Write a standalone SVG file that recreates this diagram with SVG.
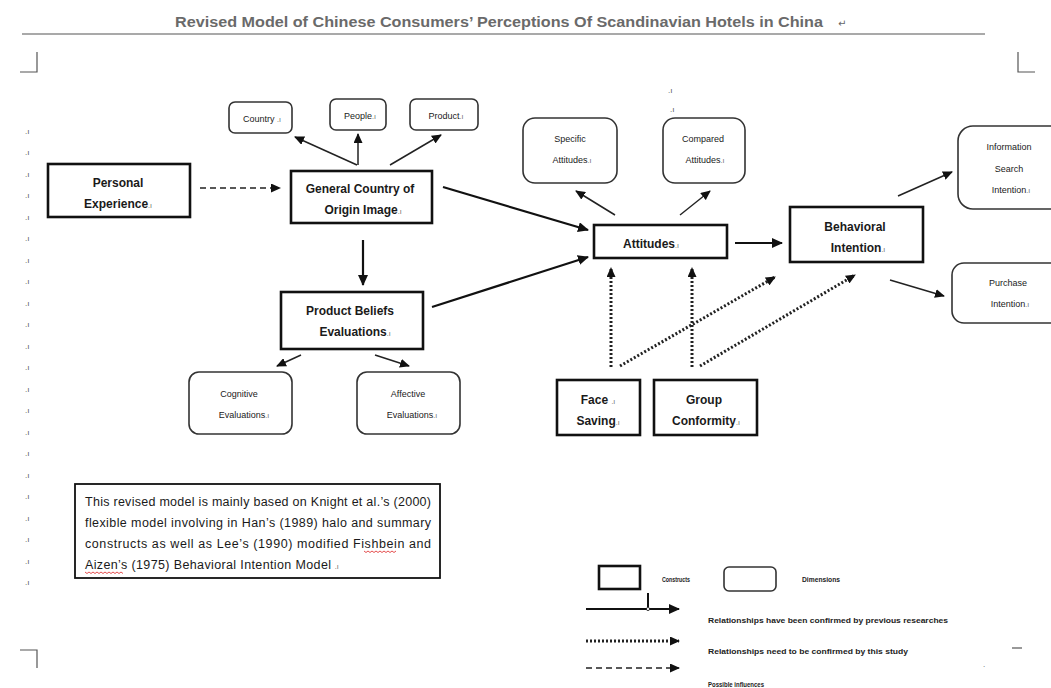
<svg xmlns="http://www.w3.org/2000/svg" width="1051" height="688" viewBox="0 0 1051 688">
<style>
  .bg{fill:#ffffff}
  .con{fill:#ffffff;stroke:#111;stroke-width:2.6}
  .dim{fill:#ffffff;stroke:#333;stroke-width:1.6}
  .lb{font-family:"Liberation Sans",Arial,sans-serif;font-weight:bold;font-size:12px;fill:#1a1a1a;text-anchor:middle}
  .ls{font-family:"Liberation Sans",Arial,sans-serif;font-size:9px;fill:#1a1a1a;text-anchor:middle}
  .pm{font-family:"Liberation Sans",Arial,sans-serif;font-size:7px;fill:#666;font-weight:normal}
  .mg{font-family:"Liberation Sans",Arial,sans-serif;font-size:8px;fill:#555}
  .tx{font-family:"Liberation Sans",Arial,sans-serif;font-size:12.5px;fill:#1a1a1a}
  .lg{font-family:"Liberation Sans",Arial,sans-serif;font-size:6.5px;font-weight:bold;fill:#222}
  .solid{stroke:#111;stroke-width:2.2;fill:none}
  .thin{stroke:#222;stroke-width:1.5;fill:none}
  .dot{stroke:#222;stroke-width:3;stroke-dasharray:2 2;fill:none}
  .dash{stroke:#222;stroke-width:1.5;stroke-dasharray:6 4;fill:none}
  .rule{stroke:#555;stroke-width:1.2;fill:none}
</style>
<defs>
  <marker id="ah" markerUnits="userSpaceOnUse" markerWidth="12" markerHeight="10" refX="10" refY="5" orient="auto">
    <path d="M0,0 L11,5 L0,10 z" fill="#111"/>
  </marker>
  <marker id="ahs" markerUnits="userSpaceOnUse" markerWidth="11" markerHeight="9" refX="9" refY="4.5" orient="auto">
    <path d="M0,0 L10,4.5 L0,9 z" fill="#111"/>
  </marker>
</defs>
<rect class="bg" x="0" y="0" width="1051" height="688"/>

<g id="page">
  <text x="175" y="27" font-family="Liberation Sans,Arial,sans-serif" font-size="14" font-weight="bold" fill="#6a6a6a" textLength="648" lengthAdjust="spacingAndGlyphs">Revised Model of Chinese Consumers’ Perceptions Of Scandinavian Hotels in China</text>
  <text x="838" y="27" font-family="DejaVu Sans,sans-serif" font-size="10" fill="#666">↵</text>
  <line class="rule" x1="22" y1="34" x2="985" y2="34"/>
  <path class="rule" d="M20,72 H37 V52"/>
  <path class="rule" d="M1018,52 V72 H1035"/>
  <path class="rule" d="M20,650 H37 V668"/>
  <line class="rule" x1="1012" y1="648" x2="1022" y2="648"/>
  <text class="mg" x="668" y="93">.ı</text>
  <text class="mg" x="670" y="112">.ı</text>
  <text class="mg" x="983" y="667">.</text>
  <g id="margin-marks">
    <text class="mg" x="25" y="134">.ı</text>
    <text class="mg" x="25" y="155">.ı</text>
    <text class="mg" x="25" y="177">.ı</text>
    <text class="mg" x="25" y="198">.ı</text>
    <text class="mg" x="25" y="220">.ı</text>
    <text class="mg" x="25" y="241">.ı</text>
    <text class="mg" x="25" y="263">.ı</text>
    <text class="mg" x="25" y="284">.ı</text>
    <text class="mg" x="25" y="306">.ı</text>
    <text class="mg" x="25" y="327">.ı</text>
    <text class="mg" x="25" y="349">.ı</text>
    <text class="mg" x="25" y="370">.ı</text>
    <text class="mg" x="25" y="392">.ı</text>
    <text class="mg" x="25" y="413">.ı</text>
    <text class="mg" x="25" y="435">.ı</text>
    <text class="mg" x="25" y="456">.ı</text>
    <text class="mg" x="25" y="478">.ı</text>
    <text class="mg" x="25" y="499">.ı</text>
    <text class="mg" x="25" y="521">.ı</text>
    <text class="mg" x="25" y="542">.ı</text>
    <text class="mg" x="25" y="564">.ı</text>
    <text class="mg" x="25" y="585">.ı</text>
  </g>
</g>

<g id="connectors">
  <line class="dash" x1="200" y1="188" x2="280" y2="188" marker-end="url(#ahs)"/>
  <line class="thin" x1="357" y1="165" x2="295" y2="137" marker-end="url(#ahs)"/>
  <line class="thin" x1="358" y1="165" x2="358" y2="134" marker-end="url(#ahs)"/>
  <line class="thin" x1="390" y1="165" x2="441" y2="135" marker-end="url(#ahs)"/>
  <line class="solid" x1="443" y1="187" x2="588" y2="230" marker-end="url(#ah)"/>
  <line class="solid" x1="363" y1="240" x2="363" y2="285" marker-end="url(#ah)"/>
  <line class="solid" x1="432" y1="307" x2="588" y2="257" marker-end="url(#ah)"/>
  <line class="thin" x1="301" y1="355" x2="277" y2="366" marker-end="url(#ahs)"/>
  <line class="thin" x1="375" y1="355" x2="409" y2="366" marker-end="url(#ahs)"/>
  <line class="thin" x1="615" y1="215" x2="576" y2="191" marker-end="url(#ahs)"/>
  <line class="thin" x1="680" y1="215" x2="710" y2="191" marker-end="url(#ahs)"/>
  <line class="solid" x1="735" y1="243" x2="782" y2="243" marker-end="url(#ah)"/>
  <line class="thin" x1="898" y1="196" x2="952" y2="172" marker-end="url(#ahs)"/>
  <line class="thin" x1="890" y1="280" x2="944" y2="296" marker-end="url(#ahs)"/>
  <line class="dot" x1="611" y1="367" x2="611" y2="268" marker-end="url(#ahs)"/>
  <line class="dot" x1="692" y1="367" x2="692" y2="268" marker-end="url(#ahs)"/>
  <line class="dot" x1="620" y1="366" x2="775" y2="277" marker-end="url(#ahs)"/>
  <line class="dot" x1="700" y1="366" x2="855" y2="275" marker-end="url(#ahs)"/>
</g>

<g id="personal-experience">
  <rect class="con" x="48" y="164" width="142" height="53"/>
  <text class="lb" x="118" y="187">Personal</text>
  <text class="lb" x="118" y="208">Experience<tspan class="pm">.ı</tspan></text>
</g>
<g id="general-coo-image">
  <rect class="con" x="291" y="171" width="141" height="52"/>
  <text class="lb" x="360" y="193">General Country of</text>
  <text class="lb" x="363" y="214">Origin Image<tspan class="pm">.ı</tspan></text>
</g>
<g id="country">
  <rect class="dim" x="229" y="102" width="63" height="31" rx="6"/>
  <text class="ls" x="262" y="122">Country <tspan class="pm">.ı</tspan></text>
</g>
<g id="people">
  <rect class="dim" x="330" y="99" width="56" height="31" rx="6"/>
  <text class="ls" x="360" y="119">People<tspan class="pm">.ı</tspan></text>
</g>
<g id="product">
  <rect class="dim" x="410" y="99" width="68" height="31" rx="6"/>
  <text class="ls" x="446" y="119">Product<tspan class="pm">.ı</tspan></text>
</g>
<g id="product-beliefs">
  <rect class="con" x="281" y="292" width="142" height="57"/>
  <text class="lb" x="350" y="315">Product Beliefs</text>
  <text class="lb" x="355" y="336">Evaluations<tspan class="pm">.ı</tspan></text>
</g>
<g id="cognitive">
  <rect class="dim" x="189" y="372" width="103" height="62" rx="10"/>
  <text class="ls" x="239" y="397">Cognitive</text>
  <text class="ls" x="244" y="418">Evaluations<tspan class="pm">.ı</tspan></text>
</g>
<g id="affective">
  <rect class="dim" x="357" y="372" width="103" height="62" rx="10"/>
  <text class="ls" x="408" y="397">Affective</text>
  <text class="ls" x="412" y="418">Evaluations<tspan class="pm">.ı</tspan></text>
</g>
<g id="attitudes">
  <rect class="con" x="594" y="225" width="133" height="33"/>
  <text class="lb" x="651" y="248">Attitudes<tspan class="pm">.ı</tspan></text>
</g>
<g id="specific-attitudes">
  <rect class="dim" x="523" y="118" width="94" height="65" rx="12"/>
  <text class="ls" x="570" y="142">Specific</text>
  <text class="ls" x="572" y="163">Attitudes<tspan class="pm">.ı</tspan></text>
</g>
<g id="compared-attitudes">
  <rect class="dim" x="663" y="118" width="82" height="65" rx="12"/>
  <text class="ls" x="703" y="142">Compared</text>
  <text class="ls" x="705" y="163">Attitudes<tspan class="pm">.ı</tspan></text>
</g>
<g id="behavioral-intention">
  <rect class="con" x="790" y="207" width="133" height="55"/>
  <text class="lb" x="855" y="231">Behavioral</text>
  <text class="lb" x="858" y="252">Intention<tspan class="pm">.ı</tspan></text>
</g>
<g id="information-search">
  <rect class="dim" x="958" y="126" width="110" height="83" rx="15"/>
  <text class="ls" x="1009" y="150">Information</text>
  <text class="ls" x="1009" y="172">Search</text>
  <text class="ls" x="1011" y="193">Intention<tspan class="pm">.ı</tspan></text>
</g>
<g id="purchase-intention">
  <rect class="dim" x="952" y="263" width="116" height="60" rx="12"/>
  <text class="ls" x="1008" y="286">Purchase</text>
  <text class="ls" x="1010" y="307">Intention<tspan class="pm">.ı</tspan></text>
</g>
<g id="face-saving">
  <rect class="con" x="557" y="380" width="83" height="55"/>
  <text class="lb" x="598" y="404">Face <tspan class="pm"> .ı</tspan></text>
  <text class="lb" x="598" y="425">Saving<tspan class="pm">.ı</tspan></text>
</g>
<g id="group-conformity">
  <rect class="con" x="654" y="380" width="103" height="55"/>
  <text class="lb" x="704" y="404">Group</text>
  <text class="lb" x="706" y="425">Conformity<tspan class="pm">.ı</tspan></text>
</g>

<g id="note">
  <rect x="75" y="484" width="365" height="94" fill="#fff" stroke="#111" stroke-width="1.8"/>
  <text class="tx" x="85" y="506" textLength="346" lengthAdjust="spacing">This revised model is mainly based on Knight et al.’s (2000)</text>
  <text class="tx" x="85" y="527" textLength="346" lengthAdjust="spacing">flexible model involving in Han’s (1989) halo and summary</text>
  <text class="tx" x="85" y="548" textLength="346" lengthAdjust="spacing">constructs as well as Lee’s (1990) modified Fishbein and</text>
  <text class="tx" x="85" y="569"><tspan textLength="246" lengthAdjust="spacing">Aizen’s (1975) Behavioral Intention Model</tspan> <tspan class="pm">.ı</tspan></text>
  <path d="M364,551 l2,1.5 l2,-1.5 l2,1.5 l2,-1.5 l2,1.5 l2,-1.5 l2,1.5 l2,-1.5 l2,1.5 l2,-1.5 l2,1.5 l2,-1.5 l2,1.5 l2,-1.5 l2,1.5 l2,-1.5" fill="none" stroke="#d22" stroke-width="0.8"/>
  <path d="M85,572 l2,1.5 l2,-1.5 l2,1.5 l2,-1.5 l2,1.5 l2,-1.5 l2,1.5 l2,-1.5 l2,1.5 l2,-1.5 l2,1.5 l2,-1.5 l2,1.5 l2,-1.5 l2,1.5 l2,-1.5 l2,1.5 l2,-1.5 l2,1.5" fill="none" stroke="#d22" stroke-width="0.8"/>
</g>

<g id="legend">
  <rect class="con" x="599" y="566" width="41" height="23"/>
  <text class="lg" x="662" y="582" textLength="28" lengthAdjust="spacingAndGlyphs">Constructs</text>
  <rect class="dim" x="724" y="567" width="52" height="24" rx="5"/>
  <text class="lg" x="802" y="582" textLength="38" lengthAdjust="spacingAndGlyphs">Dimensions</text>
  <line class="solid" x1="586" y1="609" x2="679" y2="609" marker-end="url(#ah)"/>
  <line x1="648" y1="593" x2="648" y2="607" stroke="#111" stroke-width="2"/>
  <circle cx="648" cy="609" r="1.6" fill="#fff" stroke="#111" stroke-width="0.8"/>
  <text class="lg" x="708" y="623" textLength="240" lengthAdjust="spacingAndGlyphs">Relationships have been confirmed by previous researches</text>
  <line class="dot" x1="586" y1="641" x2="679" y2="641" marker-end="url(#ahs)"/>
  <text class="lg" x="708" y="654" textLength="200" lengthAdjust="spacingAndGlyphs">Relationships need to be confirmed by this study</text>
  <line class="dash" x1="586" y1="668" x2="679" y2="668" marker-end="url(#ahs)"/>
  <text class="lg" x="708" y="687" textLength="56" lengthAdjust="spacingAndGlyphs">Possible influences</text>
</g>
</svg>
